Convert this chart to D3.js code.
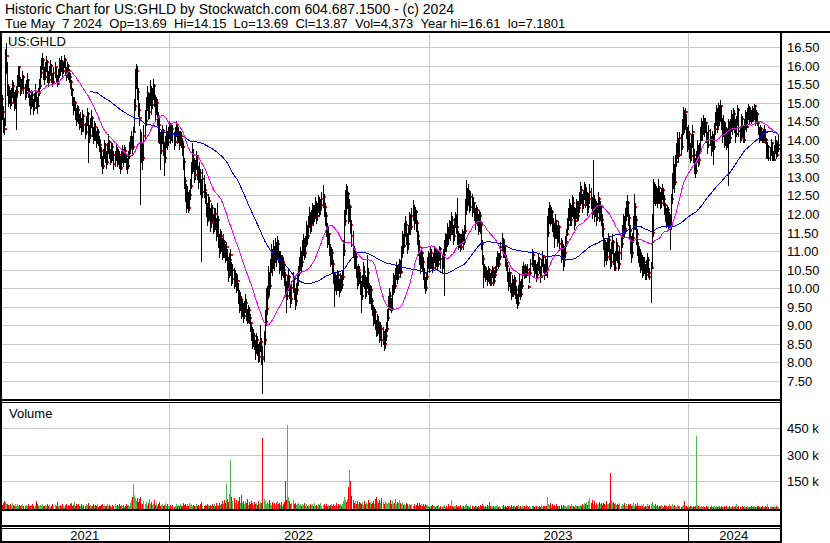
<!DOCTYPE html>
<html><head><meta charset="utf-8">
<script src="https://cdn.jsdelivr.net/npm/d3@7"></script>
<style>
body{margin:0;background:#fff;}
svg{display:block;font-family:Arial,"Liberation Sans",sans-serif;}
</style>
</head><body>
<svg id="c" width="830" height="543"></svg>
<script>
const titleLine = "Historic Chart for US:GHLD by Stockwatch.com 604.687.1500 - (c) 2024";
const infoLine = "Tue May  7 2024  Op=13.69  Hi=14.15  Lo=13.69  Cl=13.87  Vol=4,373  Year hi=16.61  lo=7.1801";
const symbol = "US:GHLD";
const priceTicks = [7.5,8,8.5,9,9.5,10,10.5,11,11.5,12,12.5,13,13.5,14,14.5,15,15.5,16,16.5];
const volumeTicks = [150,300,450]; // thousands
const years = ["2021","2022","2023","2024"];
const yearStartIndex = [0,166,417,667];
const maShort = 30, maLong = 90;

const closes = [
14.70,14.45,14.90,15.10,14.75,14.40,14.30,16.00,16.25,15.40,
15.10,15.30,15.00,15.25,15.45,15.20,14.95,15.15,15.30,15.55,
15.95,15.60,15.35,15.50,15.70,15.40,15.25,15.45,15.60,15.30,
15.15,14.90,15.20,15.05,14.85,15.10,15.30,15.00,14.90,15.25,
15.45,15.80,16.05,16.15,15.85,15.70,15.95,16.10,15.75,15.60,
15.85,16.00,15.70,15.55,15.80,15.95,15.65,15.50,15.75,16.05,
15.90,16.10,15.85,16.00,16.15,15.90,15.75,16.00,15.85,15.70,
15.55,15.35,15.10,14.85,15.00,14.70,14.55,14.80,14.60,14.45,
14.55,14.30,14.65,14.40,14.20,14.50,14.70,14.35,14.10,14.45,
14.60,14.25,14.05,14.35,14.15,13.95,14.20,14.00,13.85,13.70,
13.45,13.30,13.60,13.85,13.55,13.40,13.75,13.95,13.65,13.50,
13.80,13.60,13.35,13.55,13.70,13.45,13.60,13.40,13.25,13.50,
13.65,13.45,13.70,13.55,13.35,13.30,13.55,13.75,13.90,14.05,
13.80,14.20,14.90,15.60,15.85,15.30,14.80,14.60,13.60,13.90,
13.50,14.10,14.50,14.90,15.20,14.75,15.05,15.35,14.95,15.25,
15.45,15.10,14.80,15.00,14.60,14.40,14.10,13.70,14.00,14.25,
13.85,13.50,13.90,14.15,13.95,14.20,14.35,14.10,14.30,14.15,
13.95,14.25,14.40,14.05,14.20,13.90,14.10,13.95,13.80,13.40,
12.90,12.60,12.30,12.45,12.15,12.50,12.75,13.20,13.60,13.40,
13.05,13.30,13.55,13.20,12.95,13.10,12.80,12.60,12.95,12.65,
12.50,12.20,11.90,12.35,12.05,11.75,12.15,11.95,11.65,12.00,
11.80,11.50,11.85,11.30,11.05,11.40,11.20,10.95,11.25,11.00,
10.85,11.10,10.70,10.40,10.75,10.90,10.25,10.50,10.15,10.35,
10.05,10.20,9.80,9.55,9.70,9.35,9.50,9.25,9.45,9.60,
9.30,9.15,9.40,9.20,9.05,8.80,8.55,8.70,8.45,8.30,
8.60,8.40,8.15,8.35,8.55,8.15,8.10,8.60,9.10,9.45,
9.80,10.30,10.05,10.55,10.90,10.60,11.00,10.75,11.10,10.85,
11.20,10.90,10.60,10.80,10.45,10.70,10.50,10.35,10.05,9.80,
10.10,10.30,9.90,9.70,10.00,10.25,9.85,9.65,9.95,10.20,
10.40,10.60,10.85,10.70,11.05,11.25,10.95,11.20,11.55,11.40,
11.75,11.95,11.70,11.85,12.10,11.90,12.05,12.25,11.95,12.15,
12.35,12.10,12.25,12.40,12.45,12.20,11.95,11.60,11.30,11.45,
11.05,10.80,10.95,10.65,10.30,10.10,10.25,10.00,10.35,10.15,
9.95,10.20,10.10,10.30,11.00,11.80,12.40,12.30,12.55,11.90,
12.20,11.70,11.40,11.05,10.70,10.85,10.45,10.20,10.50,10.30,
10.05,9.80,10.15,10.45,10.20,9.90,10.10,10.40,10.00,9.75,
9.95,9.65,9.40,9.15,9.35,9.05,8.85,9.10,8.95,8.70,
8.90,8.60,8.75,8.50,8.70,8.90,9.20,9.55,9.80,9.60,
9.45,9.95,10.20,10.05,10.35,10.55,10.30,10.50,10.65,10.45,
10.95,11.30,11.15,11.55,11.70,11.40,11.20,11.50,11.85,11.65,
11.95,12.15,11.80,12.05,11.75,11.40,11.10,10.85,10.60,10.95,
10.70,10.40,10.15,10.00,10.30,10.65,10.85,10.60,10.95,10.75,
10.55,10.80,11.00,10.70,10.90,10.65,10.85,11.05,10.80,10.60,
10.90,11.10,11.35,11.20,11.55,11.40,11.70,11.50,11.85,11.60,
11.40,11.75,11.95,11.65,11.45,11.20,11.35,11.10,11.30,11.50,
11.25,11.55,12.10,12.55,12.35,12.60,12.20,12.45,12.15,12.30,
12.05,11.80,12.10,11.90,11.65,11.95,11.70,11.20,10.80,10.40,
10.55,10.35,10.45,10.25,10.50,10.30,10.15,10.40,10.55,10.20,
10.35,10.50,10.70,10.90,10.65,10.85,11.10,11.30,10.95,11.15,
10.80,10.60,10.35,10.10,10.40,10.00,9.85,10.15,9.90,10.20,
9.95,9.75,9.60,9.90,10.15,9.85,10.05,10.45,10.60,10.35,
10.55,10.40,10.50,10.04,10.40,10.65,10.90,10.70,10.45,10.60,
10.35,10.55,10.80,10.50,10.30,10.65,10.85,10.55,10.40,10.70,
10.50,11.50,11.90,12.10,11.85,12.05,11.75,11.60,11.40,11.80,
11.55,11.30,11.65,11.20,10.90,11.10,10.75,10.95,11.25,11.45,
11.70,11.95,12.20,11.85,12.05,12.30,12.10,11.80,12.00,12.25,
11.95,12.15,12.40,12.65,12.45,12.25,12.50,12.70,12.35,12.55,
12.20,12.40,12.60,12.30,12.10,12.35,12.00,12.25,11.90,12.15,
12.40,11.95,12.20,11.85,11.60,11.25,10.90,11.15,10.85,11.10,
11.30,10.95,10.70,11.05,11.25,10.80,10.55,10.85,11.15,10.90,
10.65,10.95,11.20,11.45,11.80,11.60,11.95,12.15,12.30,11.90,
11.55,11.20,10.95,11.35,11.75,12.20,11.85,11.45,11.10,10.85,
10.95,10.60,10.80,10.45,10.70,10.55,10.35,10.60,10.75,10.40,
10.30,10.55,11.50,12.40,12.70,12.45,12.60,12.35,12.70,12.50,
12.30,12.55,12.65,12.40,12.25,12.05,11.85,12.10,11.75,11.90,
11.70,12.40,12.90,13.20,12.85,13.40,13.70,13.95,13.60,14.05,
13.80,14.30,14.65,14.40,14.75,14.20,13.90,14.15,13.70,13.55,
13.95,14.20,13.60,13.30,13.15,13.50,13.80,13.45,13.70,14.15,
14.40,14.25,14.55,14.30,14.45,14.10,13.85,14.25,14.00,13.75,
14.05,13.80,14.30,14.55,14.75,14.40,14.85,14.60,14.90,14.50,
14.20,14.45,14.00,14.30,13.90,14.15,14.35,14.05,14.40,14.60,
14.35,14.70,14.45,14.15,14.50,14.80,14.25,14.05,14.55,14.30,
14.00,14.40,14.65,14.35,14.70,14.85,14.60,14.75,14.55,14.80,
14.65,14.90,14.50,14.70,14.45,14.25,14.05,14.30,14.15,13.95,
14.10,14.20,14.00,13.55,13.80,13.50,13.65,13.90,13.55,13.45,
13.70,13.95,13.60,13.75,13.87];

const highs = [
15.00,14.85,15.10,15.40,15.20,14.90,14.60,16.45,16.61,16.10,
15.50,15.45,15.35,15.40,15.60,15.55,15.30,15.35,15.45,15.75,
16.00,15.95,15.70,15.65,15.85,15.75,15.50,15.60,15.80,15.65,
15.40,15.20,15.35,15.30,15.10,15.25,15.50,15.35,15.15,15.40,
15.65,16.00,16.20,16.33,16.20,15.95,16.10,16.25,16.15,15.85,
16.00,16.15,16.05,15.80,15.95,16.10,15.95,15.75,15.90,16.20,
16.15,16.25,16.15,16.10,16.28,16.20,15.95,16.10,16.05,15.90,
15.80,15.60,15.40,15.15,15.15,15.05,14.85,14.95,14.90,14.70,
14.75,14.60,14.80,14.70,14.45,14.65,14.85,14.75,14.40,14.60,
14.80,14.65,14.35,14.50,14.45,14.25,14.35,14.30,14.10,14.00,
13.80,13.55,13.75,14.00,13.90,13.70,13.90,14.15,14.00,13.75,
13.95,13.90,13.70,13.70,13.90,13.80,13.75,13.70,13.55,13.70,
13.85,13.75,13.85,13.80,13.65,13.50,13.70,13.95,14.10,14.25,
14.10,14.35,15.10,15.90,16.05,16.00,15.40,15.00,14.30,14.20,
13.95,14.40,14.80,15.15,15.45,15.30,15.25,15.60,15.45,15.40,
15.65,15.50,15.20,15.15,15.10,14.75,14.55,14.20,14.25,14.40,
14.30,13.95,14.10,14.40,14.25,14.35,14.50,14.45,14.45,14.40,
14.20,14.35,14.50,14.45,14.35,14.25,14.25,14.20,14.05,13.90,
13.50,13.00,12.80,12.75,12.60,12.65,12.95,13.40,13.90,13.75,
13.50,13.45,13.70,13.60,13.30,13.40,13.20,12.95,13.20,13.05,
12.80,12.60,12.30,12.55,12.45,12.15,12.30,12.25,12.00,12.15,
12.15,11.90,12.30,11.95,11.45,11.60,11.55,11.35,11.45,11.30,
11.20,11.25,11.05,10.85,10.95,11.05,10.70,10.65,10.55,10.50,
10.40,10.35,10.15,9.95,9.90,9.80,9.70,9.60,9.65,9.85,
9.70,9.45,9.55,9.50,9.30,9.10,8.95,8.90,8.80,8.60,
8.80,8.70,8.50,8.55,9.00,8.65,8.45,8.85,9.40,10.00,
10.05,10.60,10.45,10.80,11.20,11.05,11.30,11.15,11.35,11.25,
11.42,11.30,11.00,11.00,10.90,10.90,10.85,10.65,10.45,10.20,
10.35,10.50,10.35,10.05,10.20,10.45,10.30,10.00,10.15,10.40,
10.60,10.85,11.10,11.00,11.30,11.45,11.35,11.40,11.80,11.70,
11.95,12.20,12.05,12.10,12.30,12.25,12.25,12.45,12.35,12.30,
12.52,12.45,12.40,12.60,12.77,12.55,12.30,12.05,11.75,11.65,
11.50,11.20,11.10,11.05,10.75,10.45,10.45,10.35,10.50,10.45,
10.25,10.40,10.35,10.50,11.30,12.10,12.65,12.82,12.75,12.60,
12.40,12.25,11.85,11.55,11.15,11.00,10.95,10.60,10.65,10.60,
10.45,10.20,10.35,10.70,10.60,10.35,10.30,10.90,10.55,10.15,
10.10,10.05,9.75,9.55,9.50,9.45,9.15,9.30,9.25,9.05,
9.10,9.00,8.95,8.85,8.90,9.10,9.45,9.80,10.00,9.90,
9.75,10.10,10.40,10.35,10.55,10.70,10.60,10.65,10.80,10.75,
11.15,11.55,11.45,11.75,11.95,11.80,11.50,11.70,12.05,12.00,
12.15,12.37,12.25,12.20,12.10,11.85,11.55,11.30,11.00,11.10,
11.00,10.85,10.55,10.30,10.45,10.85,11.00,10.95,11.15,11.05,
10.85,10.95,11.15,11.10,11.05,11.00,11.00,11.15,11.10,10.90,
11.05,11.30,11.50,11.45,11.75,11.65,11.85,11.80,12.05,11.95,
11.70,11.90,12.05,12.00,12.43,11.55,11.50,11.45,11.45,11.60,
11.55,11.70,12.40,12.91,12.70,12.80,12.65,12.60,12.55,12.45,
12.33,12.15,12.25,12.20,12.00,12.10,12.05,11.75,11.30,10.90,
10.65,10.60,10.55,10.50,10.60,10.55,10.40,10.50,10.60,10.55,
10.50,10.60,10.85,11.00,10.95,10.95,11.25,11.50,11.35,11.30,
11.15,10.90,10.70,10.45,10.55,10.45,10.15,10.35,10.25,10.35,
10.30,10.05,9.85,10.10,10.40,10.20,10.25,10.60,10.70,10.60,
10.65,10.60,10.65,10.10,10.55,10.80,11.07,11.00,10.75,10.75,
10.65,10.70,10.95,10.85,10.60,10.80,11.00,10.90,10.65,10.85,
10.80,11.95,12.15,12.33,12.25,12.20,12.10,11.90,11.75,12.00,
11.85,11.70,11.80,11.70,11.35,11.30,11.20,11.15,11.40,11.60,
11.90,12.15,12.40,12.30,12.25,12.50,12.45,12.20,12.15,12.40,
12.35,12.35,12.60,12.87,12.75,12.55,12.65,12.85,12.80,12.70,
12.60,12.55,12.80,12.70,12.45,13.45,12.50,12.40,12.35,12.30,
12.60,12.45,12.35,12.25,12.00,11.75,11.35,11.30,11.25,11.35,
11.50,11.40,11.05,11.25,11.45,11.30,10.95,11.00,11.35,11.25,
11.00,11.15,11.40,11.70,12.00,11.95,12.15,12.35,12.50,12.35,
12.00,11.70,11.40,11.50,11.95,12.55,12.30,11.95,11.60,11.25,
11.10,11.05,10.95,10.90,10.85,10.85,10.65,10.75,10.95,10.85,
10.55,10.70,12.00,12.95,12.85,12.80,12.75,12.70,12.95,12.75,
12.60,12.70,12.80,12.70,12.50,12.30,12.15,12.25,12.20,12.05,
12.00,12.55,13.10,13.55,13.35,13.60,13.90,14.20,14.05,14.20,
14.15,14.55,14.88,14.80,14.85,14.70,14.35,14.40,14.25,13.90,
14.15,14.40,14.15,13.75,13.50,13.70,14.00,13.85,13.90,14.35,
14.60,14.50,14.66,14.60,14.60,14.48,14.20,14.40,14.30,14.10,
14.25,14.15,14.45,14.75,14.95,14.85,15.00,14.95,15.06,14.95,
14.60,14.66,14.50,14.45,14.35,14.30,14.55,14.50,14.55,14.80,
14.70,14.85,14.80,14.55,14.65,14.93,14.85,14.35,14.70,14.65,
14.40,14.55,14.80,14.75,14.85,14.97,14.90,14.85,14.80,14.92,
14.85,14.97,14.95,14.80,14.75,14.50,14.35,14.40,14.35,14.25,
14.30,14.40,14.30,14.05,13.95,13.85,13.80,14.03,13.95,13.70,
13.85,14.10,14.00,13.95,14.15];

const lows = [
14.30,14.20,14.35,14.80,14.55,14.20,14.15,14.40,15.80,15.20,
14.90,15.00,14.85,14.95,15.15,15.00,14.80,14.85,14.30,15.20,
15.45,15.45,15.20,15.25,15.40,15.25,15.10,15.15,15.35,15.15,
14.95,14.70,14.85,14.90,14.70,14.80,15.05,14.85,14.72,14.90,
15.20,15.40,15.70,15.90,15.65,15.50,15.65,15.85,15.55,15.45,
15.55,15.75,15.55,15.45,15.50,15.70,15.55,15.45,15.50,15.70,
15.75,15.85,15.70,15.80,15.95,15.75,15.60,15.70,15.65,15.55,
15.40,15.20,14.95,14.70,14.80,14.55,14.40,14.50,14.45,14.30,
14.35,14.15,14.25,14.25,14.05,14.15,14.40,13.40,13.95,14.05,
14.35,14.10,13.90,14.00,14.00,13.80,13.90,13.85,13.70,13.50,
13.30,13.10,13.25,13.50,13.40,13.25,13.35,13.65,13.50,13.35,
13.40,13.45,13.20,13.30,13.45,13.30,13.35,13.25,13.10,13.20,
13.40,13.30,13.40,13.40,13.20,13.10,13.25,13.50,13.65,13.80,
13.60,13.75,14.20,14.80,15.40,15.10,14.65,14.40,12.27,13.40,
13.20,13.45,14.00,14.40,14.80,14.55,14.60,14.95,14.70,14.85,
15.10,14.90,14.50,14.70,14.40,13.95,13.90,13.20,13.65,13.90,
13.60,13.05,13.40,13.80,13.75,13.85,14.05,13.90,14.00,13.95,
13.75,13.85,14.10,13.90,13.95,13.75,13.85,13.80,13.60,13.20,
12.70,12.35,12.05,12.15,12.05,12.10,12.40,12.70,13.10,13.15,
12.85,12.95,13.20,12.95,12.70,12.85,12.55,10.74,12.45,12.45,
12.30,11.95,11.70,11.80,11.85,11.55,11.65,11.80,11.50,11.55,
11.60,11.30,11.40,11.10,10.85,10.95,11.00,10.80,10.85,10.85,
10.70,10.75,10.50,10.20,10.30,10.35,10.10,10.15,10.00,10.05,
9.90,9.95,9.60,9.35,9.40,9.20,9.25,9.10,9.20,9.35,
9.15,9.05,9.10,9.05,8.85,8.60,8.40,8.45,8.35,8.10,
8.25,8.20,8.00,8.05,8.30,7.95,7.18,8.05,8.50,9.00,
9.30,9.75,9.85,10.00,10.45,10.35,10.55,10.50,10.70,10.60,
10.80,10.70,10.40,10.50,10.25,10.35,10.30,10.10,9.80,9.35,
9.70,9.95,9.75,9.50,9.60,9.90,9.70,9.45,9.55,9.85,
10.10,10.35,10.50,10.45,10.60,10.90,10.80,10.85,11.15,11.20,
11.35,11.65,11.50,11.55,11.75,11.70,11.80,11.95,11.75,11.85,
12.05,11.95,12.00,12.15,12.20,11.95,11.70,11.40,11.10,11.20,
10.90,10.60,10.65,10.45,10.15,9.52,9.95,9.85,9.95,9.95,
9.80,9.90,9.95,10.00,10.25,10.90,11.70,12.00,12.15,11.75,
11.80,11.50,11.15,10.85,10.55,10.55,10.30,10.00,10.10,10.15,
9.85,9.35,9.70,10.05,10.00,9.75,9.80,10.00,9.85,9.60,
9.60,9.45,9.27,9.00,9.05,8.90,8.70,8.75,8.80,8.55,
8.60,8.45,8.50,8.33,8.40,8.60,8.85,9.15,9.45,9.40,
9.36,9.40,9.85,9.90,10.00,10.25,10.15,10.25,10.40,10.30,
10.40,10.85,10.95,11.10,11.40,11.20,10.95,11.07,11.45,11.45,
11.60,11.85,11.60,11.75,11.55,11.20,10.90,10.65,10.40,10.55,
10.50,10.25,10.00,9.88,9.95,10.25,10.55,10.45,10.55,10.55,
10.45,10.50,10.70,10.55,10.60,10.50,10.60,10.75,10.55,10.45,
10.55,9.82,11.00,11.00,11.15,11.20,11.35,11.30,11.45,11.45,
11.20,11.30,11.65,11.50,11.20,11.05,11.10,11.00,11.05,11.25,
11.05,11.20,11.50,12.00,12.10,12.25,12.05,12.10,11.95,12.05,
11.85,11.60,11.75,11.70,11.45,11.55,11.50,11.05,10.65,10.03,
10.30,10.20,10.25,10.10,10.20,10.15,10.10,10.10,10.30,10.10,
10.15,10.30,10.45,10.60,10.55,10.60,10.80,11.00,10.85,10.85,
10.60,10.50,10.20,9.95,10.05,9.90,9.70,9.80,9.80,9.85,
9.75,9.60,9.46,9.55,9.80,9.70,9.80,10.00,10.35,10.27,
10.30,10.30,10.35,10.00,10.17,10.35,10.60,10.50,10.30,10.40,
10.20,10.30,10.50,10.40,10.17,10.30,10.60,10.45,10.25,10.35,
10.35,10.30,11.40,11.75,11.70,11.75,11.55,11.40,11.10,11.35,
11.35,11.15,11.25,11.05,10.70,10.80,10.50,10.60,10.85,11.15,
11.43,11.60,11.85,11.70,11.70,11.95,11.90,11.60,11.70,11.90,
11.80,11.85,12.05,12.25,12.30,12.05,12.15,12.40,12.20,12.25,
11.97,12.05,12.30,12.15,11.90,12.00,11.80,11.95,11.70,11.85,
12.05,11.80,11.85,11.70,11.40,11.05,10.60,10.75,10.65,10.75,
11.00,10.80,10.55,10.60,10.95,10.65,10.50,10.50,10.75,10.70,
10.50,10.55,10.80,11.10,11.35,11.40,11.50,11.85,11.95,11.70,
11.35,10.95,10.70,10.85,11.25,11.60,11.60,11.20,10.90,10.70,
10.60,10.45,10.50,10.30,10.35,10.40,10.25,10.25,10.45,10.30,
10.25,9.63,10.55,11.40,12.30,12.25,12.30,12.20,12.30,12.30,
12.15,12.20,12.40,12.25,12.00,11.80,11.65,11.70,11.60,11.65,
11.06,11.60,12.30,12.70,12.60,12.80,13.30,13.50,13.40,13.55,
13.60,13.75,14.15,14.20,14.30,14.05,13.70,13.75,13.50,13.40,
13.45,13.80,13.40,13.10,13.00,13.10,13.40,13.30,13.35,13.65,
14.00,14.00,14.15,14.10,14.20,13.95,13.65,13.80,13.85,13.60,
13.70,13.35,13.75,14.15,14.40,14.20,14.30,14.40,14.50,14.30,
13.95,14.10,13.80,13.85,13.76,13.80,12.77,13.90,13.95,14.25,
14.15,14.30,14.20,13.94,14.10,14.40,14.10,13.94,14.00,14.10,
13.94,13.95,14.30,14.25,14.35,14.55,14.45,14.50,14.45,14.50,
14.50,14.55,14.40,14.45,14.40,14.15,13.95,14.00,14.00,13.94,
13.94,14.00,13.90,13.50,13.50,13.45,13.45,13.60,13.45,13.45,
13.45,13.65,13.50,13.55,13.69];

// daily volume, thousands of shares
const volumes = [
125,30,22,35,18,28,40,35,25,20,
18,15,22,12,28,16,10,20,14,25,
12,18,10,15,22,14,9,16,12,20,
14,10,18,25,12,8,16,38,20,15,
12,18,10,22,14,9,16,12,20,11,
15,8,13,24,10,18,12,35,14,9,
16,11,20,13,8,18,25,12,15,10,
22,30,14,18,36,12,20,16,25,10,
14,20,11,17,9,24,15,30,12,18,
10,14,22,9,16,12,20,8,14,11,
18,25,12,16,9,14,21,10,15,12,
8,17,13,20,10,15,9,24,12,16,
11,19,8,14,22,10,16,12,30,45,
60,138,75,55,40,58,35,48,62,30,
25,40,22,35,18,28,50,20,32,15,
22,45,18,26,14,20,33,12,18,24,
10,16,28,12,20,14,9,18,12,15,
8,13,20,10,16,12,22,9,14,30,
18,24,12,20,10,26,15,22,12,18,
10,14,25,12,16,9,20,35,14,11,
18,12,22,15,9,16,12,20,10,24,
14,28,18,12,30,16,22,40,25,45,
30,134,50,35,80,270,60,40,55,30,
45,25,38,60,30,75,28,42,20,35,
26,50,18,32,22,40,28,15,36,20,
30,18,42,24,35,28,394,50,38,25,
32,20,45,28,18,35,22,30,15,26,
40,20,28,18,32,14,24,36,150,45,
467,60,38,25,30,45,20,28,15,22,
30,18,25,12,20,16,28,10,22,14,
18,12,24,15,20,10,26,14,18,12,
22,16,30,12,18,25,14,20,10,16,
12,18,24,14,20,10,16,28,12,22,
15,20,12,25,40,60,45,35,52,121,
213,155,65,45,30,38,25,42,20,32,
28,22,35,18,40,25,30,20,45,28,
35,22,30,40,25,50,63,38,28,45,
30,55,35,25,40,30,20,35,28,45,
25,38,20,30,52,22,35,28,45,30,
20,32,18,25,15,28,22,12,20,16,
24,14,20,10,18,26,12,30,16,22,
14,20,10,25,15,18,12,8,14,10,
16,9,12,7,14,10,18,8,12,6,
10,15,8,12,6,20,9,14,45,11,
8,14,10,18,7,12,9,15,6,11,
14,8,16,22,10,13,7,18,9,12,
6,10,14,8,12,5,16,9,20,13,
8,12,6,15,9,35,11,7,14,10,
6,12,9,16,8,13,7,10,18,8,
12,6,14,9,11,7,15,8,12,10,
6,13,9,16,8,11,7,14,10,12,
7,15,9,6,12,8,14,10,7,11,
9,13,6,10,8,15,7,12,9,14,
10,63,25,18,30,14,22,10,16,12,
20,9,14,11,18,8,15,10,13,7,
12,16,9,14,20,10,13,8,15,11,
9,14,10,18,12,25,15,30,20,35,
18,40,55,28,45,22,38,18,30,15,
25,35,20,28,16,30,22,18,40,25,
20,30,200,45,28,35,20,30,15,25,
18,28,12,22,16,30,14,20,10,25,
15,22,12,18,30,10,20,14,26,12,
18,9,15,12,20,8,14,10,22,12,
16,25,35,18,12,20,10,15,8,14,
10,18,12,8,16,11,14,7,12,20,
9,14,22,10,16,12,8,15,11,13,
7,12,18,40,10,14,8,12,6,10,
9,5,14,8,11,404,15,10,12,7,
9,6,11,8,5,10,7,12,6,9,
5,8,12,6,10,7,4,9,6,11,
8,5,10,6,12,7,4,9,8,6,
11,5,7,10,25,6,9,4,8,12,
6,9,5,7,10,4,8,6,11,5,
7,10,6,4,9,12,5,8,6,10,
4,7,9,5,20,8,6,10,5,7,
9,4,12,6,4.373];

// ---------- layout ----------
const svg = d3.select("#c");
const n = closes.length;
const plotLeft = 2, plotRight = 780;
const priceTop = 33, priceBottom = 399;
const volTop = 403, volBottom = 509;

const x = d3.scaleLinear().domain([0, n - 1]).range([-1.9, 778.3]);
const y = d3.scaleLinear().domain([7.5, 16.5]).range([381, 47]);
const yv = d3.scaleLinear().domain([0, 450]).range([508, 428.3]);

const defs = svg.append("defs");
defs.append("clipPath").attr("id","clipP").append("rect")
  .attr("x",plotLeft).attr("y",priceTop).attr("width",plotRight-plotLeft).attr("height",priceBottom-priceTop);
defs.append("clipPath").attr("id","clipV").append("rect")
  .attr("x",plotLeft).attr("y",volTop).attr("width",plotRight-plotLeft).attr("height",volBottom-volTop);

// header (keep the double spaces)
const keepSpaces = s => s.replace(/ {2}/g, "\u00a0\u00a0");
svg.append("text").attr("x",5).attr("y",13.5).attr("font-size",14).attr("fill","#000").text(titleLine);
svg.append("text").attr("x",5).attr("y",28).attr("font-size",13).attr("fill","#000").text(keepSpaces(infoLine));

const gridColor = "#c8c8c8";
const dividerX = yearStartIndex.slice(1).map(i => Math.round(x(i - 0.5)) + 0.5);

// price grid
const pg = svg.append("g");
pg.selectAll("line.h").data(priceTicks).join("line")
  .attr("x1",plotLeft).attr("x2",plotRight)
  .attr("y1",d=>Math.round(y(d))+0.5).attr("y2",d=>Math.round(y(d))+0.5)
  .attr("stroke",gridColor).attr("stroke-width",1);
pg.selectAll("line.v").data(dividerX).join("line")
  .attr("x1",d=>d).attr("x2",d=>d).attr("y1",priceTop).attr("y2",priceBottom)
  .attr("stroke",gridColor);

// volume grid
const vg = svg.append("g");
vg.selectAll("line.h").data(volumeTicks).join("line")
  .attr("x1",plotLeft).attr("x2",plotRight)
  .attr("y1",d=>Math.round(yv(d))+0.5).attr("y2",d=>Math.round(yv(d))+0.5)
  .attr("stroke",gridColor);
vg.selectAll("line.v").data(dividerX).join("line")
  .attr("x1",d=>d).attr("x2",d=>d).attr("y1",volTop).attr("y2",volBottom)
  .attr("stroke",gridColor);

// price bars (black high-low line + red close tick)
const barG = svg.append("g").attr("clip-path","url(#clipP)").attr("shape-rendering","crispEdges");
const bars = barG.selectAll("g").data(d3.range(n)).join("g");
bars.append("rect")
  .attr("x",i=>Math.floor(x(i)))
  .attr("y",i=>Math.round(y(Math.max(highs[i],closes[i]))))
  .attr("width",1)
  .attr("height",i=>Math.max(1, Math.round(y(Math.min(lows[i],closes[i]))) - Math.round(y(Math.max(highs[i],closes[i]))) + 1))
  .attr("fill","#000");
bars.append("rect")
  .attr("x",i=>Math.floor(x(i)) + 1)
  .attr("y",i=>Math.round(y(closes[i])) - 1)
  .attr("width",2).attr("height",2)
  .attr("fill","#ff0000");

// moving averages
function sma(arr, p){
  return arr.map((v,i)=> i < p - 1 ? null : d3.mean(arr.slice(i - p + 1, i + 1)));
}
const maS = sma(closes, maShort), maL = sma(closes, maLong);
const line = d3.line().defined(d=>d[1]!=null).x(d=>x(d[0])).y(d=>y(d[1]));
const maG = svg.append("g").attr("clip-path","url(#clipP)").attr("fill","none").attr("shape-rendering","crispEdges");
maG.append("path").attr("d", line(maL.map((v,i)=>[i,v]))).attr("stroke","#0000ff").attr("stroke-width",1);
maG.append("path").attr("d", line(maS.map((v,i)=>[i,v]))).attr("stroke","#ff00ff").attr("stroke-width",1);

// volume bars
const volG = svg.append("g").attr("clip-path","url(#clipV)").attr("shape-rendering","crispEdges");
volG.selectAll("rect").data(d3.range(n)).join("rect")
  .attr("x",i=>Math.floor(x(i)))
  .attr("y",i=>Math.round(yv(volumes[i])))
  .attr("width",1)
  .attr("height",i=>Math.max(1, Math.round(yv(0)) - Math.round(yv(volumes[i])) + 1))
  .attr("fill",i=>{
    if (i === 0) return "#4cb84c";
    if (closes[i] > closes[i-1]) return "#4cb84c";
    if (closes[i] < closes[i-1]) return "#ff0000";
    return "#a8a8a8";
  });

// labels inside panels
svg.append("text").attr("x",8).attr("y",46).attr("font-size",13).attr("fill","#000").text(symbol);
svg.append("text").attr("x",9).attr("y",418).attr("font-size",13).attr("fill","#000").text("Volume");

// right axes
const fmtP = d3.format(".2f");
svg.append("g").selectAll("text").data(priceTicks).join("text")
  .attr("x",787).attr("y",d=>Math.round(y(d))+5).attr("font-size",13).attr("fill","#000")
  .text(d=>fmtP(d));
svg.append("g").selectAll("text").data(volumeTicks).join("text")
  .attr("x",787).attr("y",d=>Math.round(yv(d))+5).attr("font-size",13).attr("fill","#000")
  .text(d=>d + " k");

// frame
const frame = svg.append("g").attr("stroke","#000").attr("shape-rendering","crispEdges");
frame.append("line").attr("x1",0).attr("x2",830).attr("y1",32).attr("y2",32).attr("stroke-width",2);
frame.append("line").attr("x1",1).attr("x2",1).attr("y1",31).attr("y2",543).attr("stroke-width",2);
frame.append("line").attr("x1",781).attr("x2",781).attr("y1",31).attr("y2",543).attr("stroke-width",2);
frame.append("line").attr("x1",0).attr("x2",781).attr("y1",400).attr("y2",400).attr("stroke-width",2);
frame.append("line").attr("x1",0).attr("x2",781).attr("y1",402.5).attr("y2",402.5).attr("stroke-width",1);
frame.append("line").attr("x1",0).attr("x2",781).attr("y1",510).attr("y2",510).attr("stroke-width",2);
frame.append("line").attr("x1",0).attr("x2",781).attr("y1",526).attr("y2",526).attr("stroke-width",2);
frame.append("line").attr("x1",0).attr("x2",781).attr("y1",528.5).attr("y2",528.5).attr("stroke-width",1);
frame.append("line").attr("x1",0).attr("x2",781).attr("y1",542).attr("y2",542).attr("stroke-width",2);
frame.selectAll("line.yd").data(dividerX).join("line")
  .attr("x1",d=>d).attr("x2",d=>d).attr("y1",510).attr("y2",542).attr("stroke-width",1);

// year labels
const bounds = [plotLeft, ...dividerX, 781];
svg.append("g").selectAll("text").data(years).join("text")
  .attr("x",(d,k)=>(bounds[k]+bounds[k+1])/2 - 1)
  .attr("y",540).attr("font-size",13).attr("text-anchor","middle").attr("fill","#000")
  .text(d=>d);
</script>
</body></html>
